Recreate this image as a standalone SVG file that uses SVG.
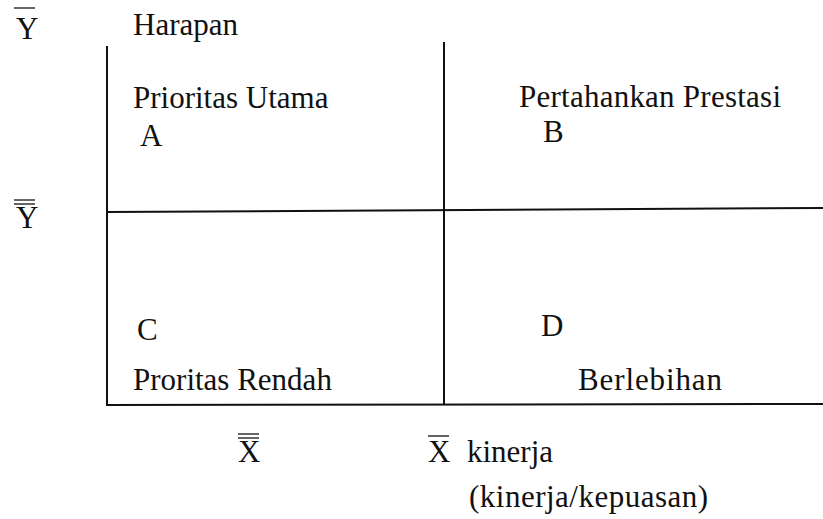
<svg xmlns="http://www.w3.org/2000/svg" width="823" height="519" viewBox="0 0 823 519">
<style>
.t{font-family:"Liberation Serif","Times New Roman",serif;font-size:31px;fill:#111}
.ln{stroke:#111;stroke-width:2;fill:none}
.bar{stroke:#111;stroke-width:1.3;fill:none}
</style>
<rect width="823" height="519" fill="#fff"/>
<g id="connectors">
<line class="ln" x1="107" y1="46" x2="107" y2="406"/>
<line class="ln" x1="444" y1="42" x2="444" y2="405"/>
<line class="ln" x1="107" y1="212" x2="823" y2="208"/>
<line class="ln" x1="107" y1="405" x2="823" y2="404"/>
</g>
<g id="axis-y">
<text class="t" x="16" y="39">Y</text>
<line class="bar" x1="14" y1="8" x2="35" y2="8"/>
<text class="t" x="133" y="35">Harapan</text>
<text class="t" x="16" y="228">Y</text>
<line class="bar" x1="14" y1="200" x2="35" y2="200"/>
<line class="bar" x1="14" y1="204" x2="35" y2="204"/>
</g>
<g id="quadrant-A">
<text class="t" x="133" y="108">Prioritas Utama</text>
<text class="t" x="140" y="146">A</text>
</g>
<g id="quadrant-B">
<text class="t" x="519" y="107" textLength="262">Pertahankan Prestasi</text>
<text class="t" x="543" y="142">B</text>
</g>
<g id="quadrant-C">
<text class="t" x="137" y="340">C</text>
<text class="t" x="133" y="390">Proritas Rendah</text>
</g>
<g id="quadrant-D">
<text class="t" x="541" y="336">D</text>
<text class="t" x="578" y="390" textLength="144">Berlebihan</text>
</g>
<g id="axis-x">
<text class="t" x="238" y="462">X</text>
<line class="bar" x1="238" y1="434" x2="259" y2="434"/>
<line class="bar" x1="238" y1="438" x2="259" y2="438"/>
<text class="t" x="428" y="462">X</text>
<line class="bar" x1="428" y1="436" x2="449" y2="436"/>
<text class="t" x="467" y="462">kinerja</text>
<text class="t" x="469" y="507" textLength="239">(kinerja/kepuasan)</text>
</g>
</svg>
